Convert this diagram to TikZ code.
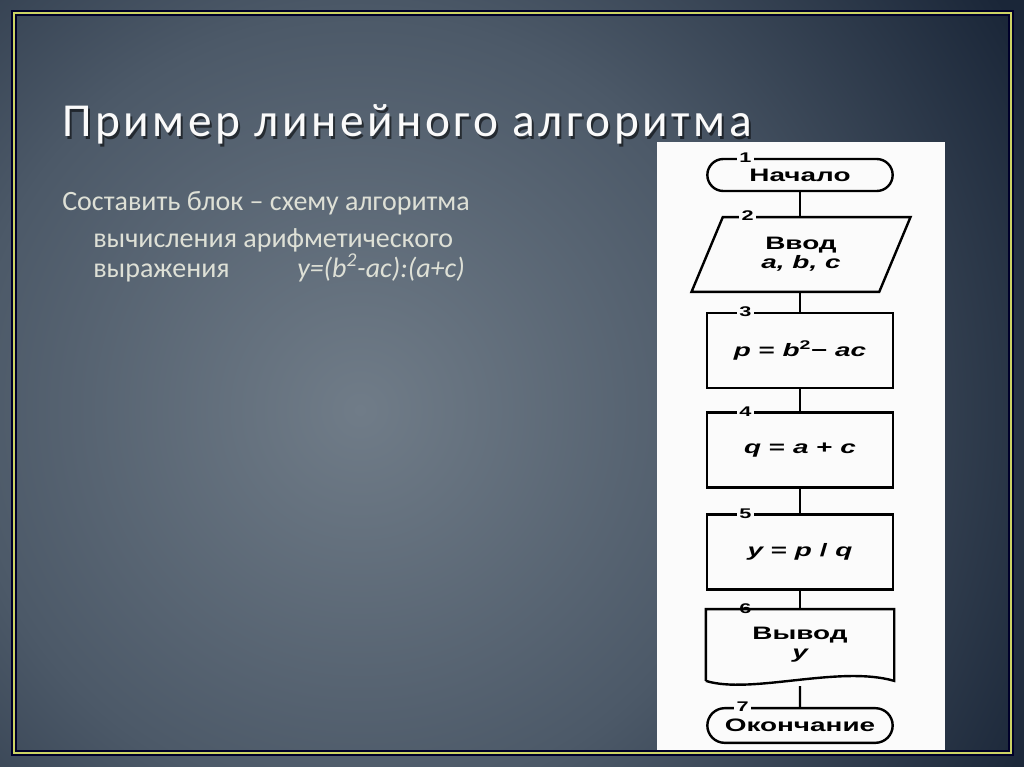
\documentclass[tikz,border=0pt]{standalone}
\usepackage{fontspec}
\setmainfont{Carlito}
\newfontfamily\chartfont{Liberation Sans}[FakeStretch=1.55]
\newfontfamily\titlefont{Carlito}[LetterSpace=7.5]
\usetikzlibrary{shapes.geometric, shapes.misc}
\definecolor{bgin}{RGB}{112,124,136}
\definecolor{bgmid}{RGB}{76,89,104}
\definecolor{bgout}{RGB}{26,38,56}
\definecolor{framey}{RGB}{204,210,100}
\definecolor{textgrey}{RGB}{222,224,214}
\pgfdeclareradialshading{slidebg}{\pgfpoint{0bp}{0bp}}{color(0bp)=(bgin); color(13bp)=(bgmid); color(25bp)=(bgout); color(50bp)=(bgout)}

\begin{document}
\begin{tikzpicture}[x=0.75pt, y=-0.75pt,
    chart/.style = {draw, line width=1.8pt, align=center, inner sep=0pt,
        font=\chartfont\bfseries\fontsize{13.5}{16}\selectfont},
    term/.style = {chart, rounded rectangle, minimum width=139pt},
    io/.style = {chart, trapezium, trapezium left angle=65,
        trapezium right angle=115, trapezium stretches=true,
        minimum width=165pt, minimum height=56pt},
    proc/.style = {chart, rectangle, minimum width=139.5pt, minimum height=56pt},
    doc/.style = {chart, draw=none, rectangle, minimum width=139.5pt, minimum height=52pt},
    numlbl/.style = {anchor=center, xshift=-41pt, fill=white!97!gray, inner sep=2pt,
        font=\chartfont\bfseries\fontsize{10.5}{11}\selectfont},
    conn/.style = {line width=1.8pt},
    slidetext/.style = {anchor=base west, text=textgrey, inner sep=0pt,
        font=\fontsize{21}{25}\selectfont}]

\useasboundingbox (0,0) rectangle (1024,767);
\begin{scope}
\clip (0,0) rectangle (1024,767);
\fill[bgout] (0,0) rectangle (1024,767);
\shade[shading=slidebg] (360,410) circle (760);
\end{scope}

% title and task
\node[anchor=base west, inner sep=0pt, text=black, opacity=0.55,
    font=\titlefont\fontsize{35.5}{40}\selectfont] (titleshadow) at (64,139)
    {Пример линейного алгоритма};
\node[anchor=base west, inner sep=0pt, text=white!96!gray,
    font=\titlefont\fontsize{35.5}{40}\selectfont] (title) at (62,137)
    {Пример линейного алгоритма};
\node[slidetext] (task1) at (62,210) {Составить блок -- схему алгоритма};
\node[slidetext] (task2) at (93,247) {вычисления арифметического};
\node[slidetext] (task3) at (93,277) {выражения};
\node[slidetext] (formula) at (297,277) {\itshape y=(b\textsuperscript{2}-ac):(a+c)};

% scheme
\fill[white!97!gray] (657,142) rectangle (945,752);

\node[term, minimum height=24pt, label={[numlbl]north:1}] (start) at (800,175) {Начало};
\node[io, label={[numlbl, xshift=1pt]north:2}] (input) at (801,254.5)
    {Ввод\\[-2pt] {\itshape a, b, c}};
\node[proc, label={[numlbl]north:3}] (calcp) at (800,350.5)
    {{\itshape p} = {\itshape b}\textsuperscript{2}− {\itshape ac}};
\node[proc, label={[numlbl]north:4}] (calcq) at (800,450)
    {{\itshape q} = {\itshape a} + {\itshape c}};
\node[proc, label={[numlbl]north:5}] (calcy) at (800,552)
    {{\itshape y} = {\itshape p} / {\itshape q}};
\node[doc, label={[numlbl]north:6}] (output) at (800,645)
    {Вывод\\[-2pt] {\itshape y}};
\draw[conn] (output.south west) -- (output.north west) -- (output.north east)
    -- (output.south east) .. controls +(-55,-16) and +(45,14) .. (output.south west);
\node[term, minimum height=26pt, label={[numlbl, xshift=-2pt]north:7}] (stop) at (800,725.5) {Окончание};

\draw[conn] (start.south) -- (start.south |- input.north);
\draw[conn] (start.south |- input.south) -- (calcp.north);
\draw[conn] (calcp) -- (calcq);
\draw[conn] (calcq) -- (calcy);
\draw[conn] (calcy) -- (output);
\draw[conn] ([yshift=-4pt]output.south) -- (stop);

% frame
\draw[black!60!blue!40!black, line width=4.5pt] (14,13) rectangle (1011,753);
\draw[framey, line width=2pt] (14,13) rectangle (1011,753);
\end{tikzpicture}
\end{document}
